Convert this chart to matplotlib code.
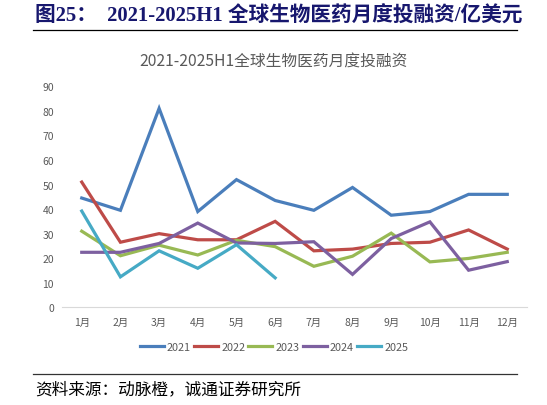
import matplotlib
matplotlib.use("Agg")
import matplotlib.pyplot as plt
from matplotlib.lines import Line2D

plt.rcParams['font.family'] = ['Noto Sans CJK SC', 'DejaVu Sans']

months = ['1月', '2月', '3月', '4月', '5月', '6月', '7月', '8月', '9月', '10月', '11月', '12月']
y2021 = [44.5, 39.5, 81, 39, 52, 43.5, 39.5, 48.8, 37.5, 39, 46, 46]
y2022 = [51, 26.5, 30, 27.5, 27.5, 35, 23, 23.7, 26, 26.5, 31.5, 23.7]
y2023 = [31, 21, 25.3, 21.3, 27.3, 24.7, 16.7, 20.8, 30.2, 18.5, 19.9, 22.4]
y2024 = [22.4, 22.4, 26, 34.3, 26.2, 26, 26.7, 13.4, 28, 34.8, 15.1, 18.6]
y2025 = [39.2, 12.4, 23, 15.9, 25.5, 12]
years = ['2021', '2022', '2023', '2024', '2025']
colors = ['#4A7EBB', '#BE4B48', '#98B954', '#7D60A0', '#46AAC5']

fig = plt.figure(figsize=(5.47, 4.06), dpi=100)
ax = fig.add_axes([62.4 / 547, 1 - 308.3 / 406, 464.2 / 547, 221 / 406])

for name, vals, c in zip(years, [y2021, y2022, y2023, y2024, y2025], colors):
    ax.plot(range(len(vals)), vals, color=c, lw=2.3, label=name, solid_joinstyle='miter')

ax.set_xlim(-0.5, 11.5)
ax.set_ylim(0, 90)
ax.set_yticks(range(0, 91, 10))
ax.set_xticks(range(12))
ax.set_xticklabels(months)
ax.tick_params(axis='both', length=0, labelsize=7.5, colors='#595959', pad=6)
ax.tick_params(axis='x', pad=7)
for s in ['top', 'right', 'left']:
    ax.spines[s].set_visible(False)
ax.spines['bottom'].set_color('#D9D9D9')
ax.spines['bottom'].set_linewidth(0.8)

handles = [Line2D([], [], color=c, lw=2.3) for c in colors]
fig.legend(handles, years, loc='center', bbox_to_anchor=(274 / 547, 1 - 348 / 406),
           ncol=5, frameon=False, fontsize=7.8, labelcolor='#595959',
           handlelength=2.2, handletextpad=0.3, columnspacing=0.3)

fig.text(273 / 547, 1 - 62 / 406, '2021-2025H1全球生物医药月度投融资', ha='center', va='center',
         fontsize=11.3, color='#595959')

fig.text(35 / 547, 1 - 17 / 406, '图25：  2021-2025H1 全球生物医药月度投融资/亿美元',
         ha='left', va='center', fontsize=14.9, fontweight='bold', color='#17176E',
         family=['Liberation Serif', 'Noto Sans CJK SC'])
fig.add_artist(Line2D([33 / 547, 517 / 547], [1 - 31 / 406] * 2, color='black', lw=0.9))
fig.add_artist(Line2D([33 / 547, 517 / 547], [1 - 375 / 406] * 2, color='#333333', lw=0.9))
fig.text(35 / 547, 1 - 390 / 406, '资料来源：动脉橙，诚通证券研究所', ha='left', va='center',
         fontsize=12, color='black')

fig.savefig('out.png', dpi=100)
